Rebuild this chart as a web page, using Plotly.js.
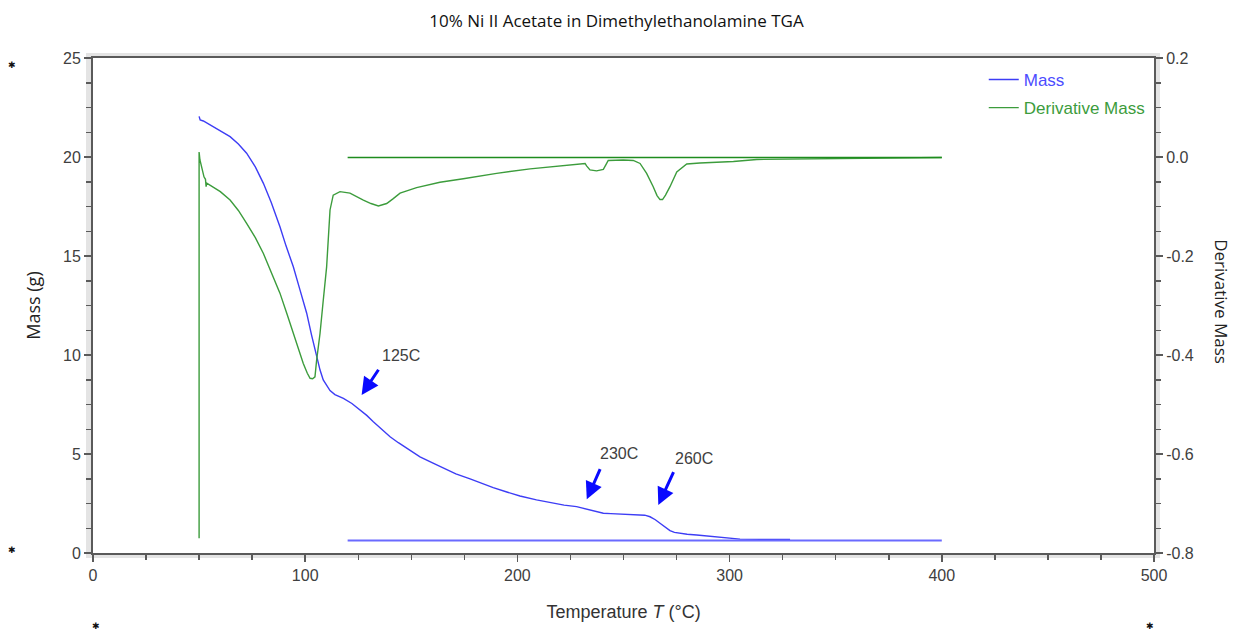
<!DOCTYPE html>
<html>
<head>
<meta charset="utf-8">
<script src="https://cdn.plot.ly/plotly-3.0.1.min.js"></script>
<style>html,body{margin:0;padding:0;background:#fff;}#chart{width:1233px;height:633px;}</style>
</head>
<body>
<div id="chart"></div>
<script>
// ---- Data ----
const massTemp = [50, 50.5, 52, 56.7, 60.5, 64.6, 68.5, 72.4, 76.5, 80.3, 84, 88.1, 91, 94.4, 97.5, 100.7, 103, 105.4, 107, 108.5, 110.1, 111.7, 114, 118, 122, 125.8, 129, 132.1, 136, 140, 143.9, 147.8, 154.1, 160, 165.1, 171, 177.7, 183, 188.6, 195, 201.2, 209, 216.9, 222, 227.9, 232.7, 236, 240.5, 244, 248.4, 253, 257.8, 260, 262.5, 265, 267.2, 269.5, 271.9, 274, 276.6, 280, 284.5, 290, 295.5, 300, 304.9, 315, 328.5];
const massValues = [22.05, 21.87, 21.82, 21.53, 21.32, 21.03, 20.66, 20.19, 19.5, 18.67, 17.7, 16.48, 15.5, 14.46, 13.3, 12.11, 11.0, 9.92, 9.24, 8.74, 8.45, 8.2, 8.0, 7.81, 7.55, 7.22, 6.95, 6.63, 6.25, 5.87, 5.57, 5.29, 4.86, 4.55, 4.28, 4.0, 3.74, 3.52, 3.3, 3.08, 2.88, 2.68, 2.51, 2.42, 2.34, 2.21, 2.12, 2.01, 1.99, 1.97, 1.96, 1.95, 1.91, 1.83, 1.68, 1.5, 1.3, 1.13, 1.04, 0.99, 0.95, 0.91, 0.85, 0.79, 0.74, 0.7, 0.69, 0.69];
const massBaseTemp = [120, 400];
const massBaseValues = [0.63, 0.63];

const derivTemp = [50, 50, 50.4, 51.2, 52.3, 53.0, 53.3, 53.6, 55.1, 60, 64.6, 68.5, 72.4, 76.5, 80.3, 84, 88.1, 91.5, 94.4, 97, 99.1, 101, 102.3, 103.5, 104.6, 105.4, 107.0, 108.5, 110.1, 111.7, 113.2, 116.4, 121.1, 127.4, 131, 134.5, 138.4, 141.5, 144.7, 152.5, 163.5, 174.5, 190.2, 206, 221.7, 231.9, 232.6, 234.2, 237.3, 240.5, 241.8, 242.8, 249.9, 254.6, 257.8, 260.9, 264, 265.8, 267.2, 268.4, 269.8, 271.9, 275.1, 279.8, 286, 301.8, 312.8, 330, 358.3, 370, 385, 400];
const derivValues = [-0.77, 0.01, -0.006, -0.02, -0.04, -0.045, -0.06, -0.053, -0.057, -0.07, -0.087, -0.108, -0.134, -0.163, -0.195, -0.233, -0.275, -0.318, -0.356, -0.39, -0.417, -0.437, -0.447, -0.448, -0.444, -0.41, -0.356, -0.29, -0.222, -0.107, -0.077, -0.07, -0.073, -0.087, -0.094, -0.099, -0.094, -0.084, -0.073, -0.062, -0.051, -0.044, -0.033, -0.024, -0.017, -0.013, -0.018, -0.026, -0.028, -0.025, -0.015, -0.007, -0.006, -0.007, -0.013, -0.033, -0.06, -0.078, -0.086, -0.086, -0.077, -0.06, -0.03, -0.014, -0.012, -0.009, -0.005, -0.004, -0.003, -0.002, -0.002, -0.001];
const derivBaseTemp = [120, 400];
const derivBaseValues = [-0.001, -0.001];

const leftTickVals = [0, 5, 10, 15, 20, 25];
const leftTickText = ['0', '5', '10', '15', '20', '25'];
const rightTickVals = [0.2, 0.0, -0.2, -0.4, -0.6, -0.8];
const rightTickText = ['0.2', '0.0', '-0.2', '-0.4', '-0.6', '-0.8'];
const xTickVals = [0, 100, 200, 300, 400, 500];
const xTickText = ['0', '100', '200', '300', '400', '500'];

const callTexts = ['125C', '230C', '260C'];
const callTextX = [145.0, 247.9, 283.2];
const callTextY = [9.95, 5.05, 4.75];
const arrowTipX = [126.6, 232.7, 266.4];
const arrowTipY = [7.98, 2.71, 2.42];
const arrowTailX = [135.0, 239.3, 273.9];
const arrowTailY = [9.33, 4.31, 4.16];

// ---- Styling ----
const BLUE = '#3d3df5';
const GREEN = '#3c9c3c';
const AXC = '#5a5a5a';
const TICKFONT = {family: 'Liberation Sans, Arial, sans-serif', size: 16, color: '#404040'};

const traces = [
  {x: massTemp, y: massValues, name: '<span style="color:#4c4cff">Mass</span>', type: 'scatter', mode: 'lines',
   line: {color: BLUE, width: 1.4}, yaxis: 'y', legendgroup: 'a'},
  {x: derivTemp, y: derivValues, name: '<span style="color:#3c9c3c">Derivative Mass</span>', type: 'scatter', mode: 'lines',
   line: {color: GREEN, width: 1.4}, yaxis: 'y2', legendgroup: 'b'},
  {x: massBaseTemp, y: massBaseValues, type: 'scatter', mode: 'lines', showlegend: false,
   line: {color: '#6a6aff', width: 2}, yaxis: 'y'},
  {x: derivBaseTemp, y: derivBaseValues, type: 'scatter', mode: 'lines', showlegend: false,
   line: {color: '#1e8c1e', width: 1.5}, yaxis: 'y2'}
];

const annotations = [];
for (let i = 0; i < callTexts.length; i++) {
  annotations.push({x: callTextX[i], y: callTextY[i], xref: 'x', yref: 'y', text: callTexts[i], showarrow: false,
    font: {family: 'Liberation Sans, Arial, sans-serif', size: 16, color: '#404040'}});
  annotations.push({x: arrowTipX[i], y: arrowTipY[i], xref: 'x', yref: 'y', ax: arrowTailX[i], ay: arrowTailY[i],
    axref: 'x', ayref: 'y', text: '', showarrow: true, arrowhead: 2, arrowsize: 1.15, arrowwidth: 3,
    arrowcolor: '#0a0aff', standoff: 0, startstandoff: 0});
}
annotations.push({xref: 'paper', yref: 'paper', x: 1.064, y: 0.507, xanchor: 'center', yanchor: 'middle',
  text: 'Derivative Mass', textangle: 90,
  showarrow: false, font: {family: 'Open Sans, sans-serif', size: 17, color: '#222'}});
const stars = [[-0.0763, 0.985], [-0.0763, 0.006], [0.0028, -0.1475], [0.9962, -0.1475]];
stars.forEach(s => annotations.push({xref: 'paper', yref: 'paper', x: s[0], y: s[1], text: '✱', showarrow: false,
  xanchor: 'center', yanchor: 'middle',
  font: {family: 'DejaVu Sans, sans-serif', size: 9, color: '#111'}}));

const layout = {
  width: 1233, height: 633,
  margin: {l: 93, r: 79, t: 58, b: 80},
  paper_bgcolor: '#ffffff', plot_bgcolor: 'rgba(0,0,0,0)',
  title: {text: '10% Ni II Acetate in Dimethylethanolamine TGA', x: 0.5, xref: 'container', y: 0.966, yanchor: 'middle',
    font: {family: 'Open Sans, sans-serif', size: 17, color: '#111'}},
  showlegend: true,
  legend: {x: 0.996, xanchor: 'right', y: 0.992, yanchor: 'top', bgcolor: 'rgba(0,0,0,0)',
    font: {family: 'Liberation Sans, Arial, sans-serif', size: 17}, tracegroupgap: 3, traceorder: 'grouped',
    itemwidth: 30},
  xaxis: {range: [0, 500], tickvals: xTickVals, ticktext: xTickText, ticks: 'outside', ticklen: 7, tickwidth: 1.5,
    tickcolor: AXC, showline: true, linecolor: AXC, linewidth: 2, mirror: true, showgrid: false, zeroline: false,
    tickfont: TICKFONT, minor: {dtick: 25, ticks: 'outside', ticklen: 5, tickcolor: AXC, showgrid: false},
    title: {text: 'Temperature <i>T</i> (°C)', standoff: 22, font: {family: 'Liberation Sans, Arial, sans-serif', size: 18, color: '#333'}}},
  yaxis: {range: [0, 25], tickvals: leftTickVals, ticktext: leftTickText, ticks: 'outside', ticklen: 7, tickwidth: 1.5,
    tickcolor: AXC, showline: true, linecolor: AXC, linewidth: 2, showgrid: false, zeroline: false,
    tickfont: TICKFONT, minor: {dtick: 1.25, ticks: 'outside', ticklen: 5, tickcolor: AXC, showgrid: false},
    title: {text: 'Mass (g)', standoff: 18, font: {family: 'Open Sans, sans-serif', size: 18, color: '#222'}}},
  yaxis2: {range: [-0.8, 0.2], overlaying: 'y', side: 'right', tickvals: rightTickVals, ticktext: rightTickText,
    ticks: 'outside', ticklen: 7, tickwidth: 1.5, tickcolor: AXC, showline: true, linecolor: AXC, linewidth: 2,
    showgrid: false, zeroline: false, tickfont: TICKFONT,
    minor: {dtick: 0.05, ticks: 'outside', ticklen: 5, tickcolor: AXC, showgrid: false}},
  shapes: [
    {type: 'rect', xref: 'paper', yref: 'paper', x0: -7/1061, x1: 1 + 6/1061, y0: -5/495, y1: 1 + 5/495,
     fillcolor: '#e4e4e4', line: {width: 0}, layer: 'below'},
    {type: 'rect', xref: 'paper', yref: 'paper', x0: 0, x1: 1, y0: 0, y1: 1,
     fillcolor: '#ffffff', line: {width: 0}, layer: 'below'}
  ],
  annotations: annotations
};

Plotly.newPlot('chart', traces, layout, {displayModeBar: false, staticPlot: true});
</script>
</body>
</html>
